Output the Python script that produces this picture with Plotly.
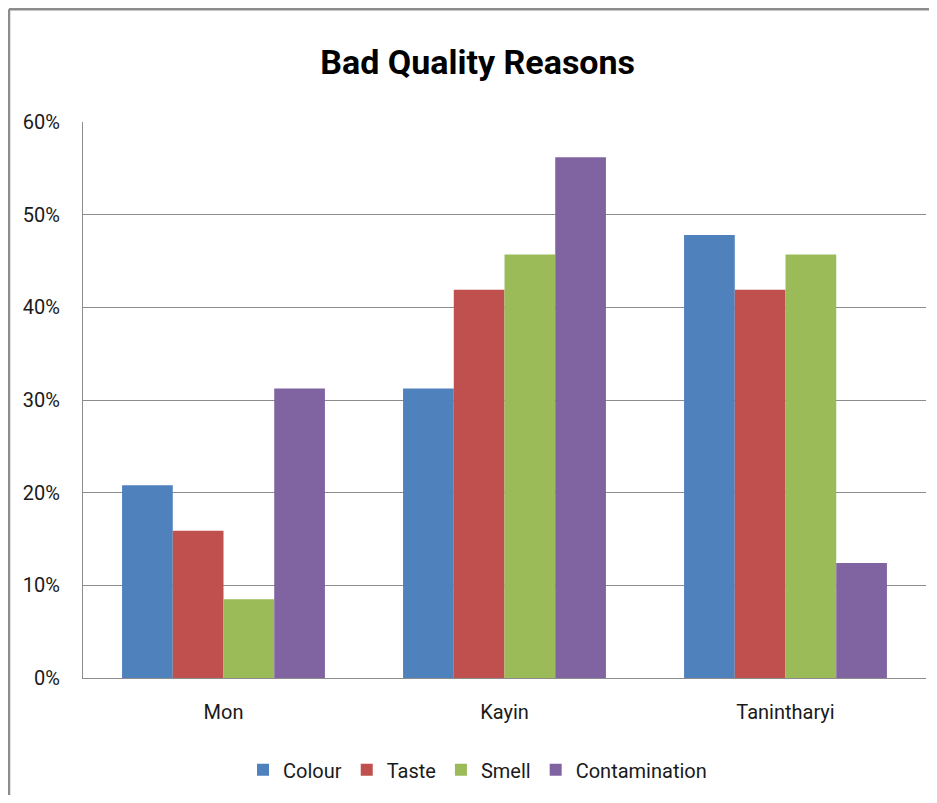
import plotly.graph_objects as go

regions = ["Mon", "Kayin", "Tanintharyi"]
colour = [20.8, 31.25, 47.8]
taste = [15.9, 41.9, 41.9]
smell = [8.5, 45.7, 45.7]
contamination = [31.25, 56.2, 12.4]

series = [
    ("Colour", colour, "#4f81bd"),
    ("Taste", taste, "#c0504d"),
    ("Smell", smell, "#9bbb59"),
    ("Contamination", contamination, "#8064a2"),
]

font_family = "Roboto, Open Sans, sans-serif"

fig = go.Figure()
for name, vals, col in series:
    fig.add_trace(
        go.Bar(
            x=regions,
            y=[v / 100 for v in vals],
            name=name,
            marker={"color": col, "line": {"width": 0}},
        )
    )

# the page has an 8px body margin, so the figure is sized to fit inside it
fig.update_layout(
    width=921,
    height=787,
    margin={"l": 75, "r": 3, "t": 114, "b": 117},
    paper_bgcolor="white",
    plot_bgcolor="white",
    barmode="group",
    bargap=0.278,
    bargroupgap=0,
    font={"family": font_family, "size": 20, "color": "#1a1a1a"},
    title={
        "text": "<b>Bad Quality Reasons</b>",
        "x": 0.51,
        "xanchor": "center",
        "y": 0.931,
        "yanchor": "middle",
        "font": {"size": 34, "color": "black"},
    },
    legend={
        "orientation": "h",
        "x": 0.468,
        "xanchor": "center",
        "y": -0.165,
        "yanchor": "middle",
        "font": {"size": 20},
        "itemwidth": 30,
    },
    showlegend=True,
)

fig.update_yaxes(
    range=[0, 0.6],
    dtick=0.1,
    tickformat=".0%",
    showgrid=True,
    gridcolor="#8c8c8c",
    gridwidth=1,
    showline=True,
    linecolor="#8c8c8c",
    ticks="",
    ticklabelstandoff=18,
    zeroline=False,
)
fig.update_xaxes(
    showline=True,
    linecolor="#8c8c8c",
    ticks="",
    ticklabelstandoff=16,
)

# chart frame: only the top and left edges are visible in the original
frame = {"color": "#8c8c8c", "width": 2.5}
fig.add_shape(type="line", xref="paper", yref="paper",
              x0=-0.0878, x1=1.1, y0=1.203, y1=1.203, line=frame)
fig.add_shape(type="line", xref="paper", yref="paper",
              x0=-0.0878, x1=-0.0878, y0=1.203, y1=-0.4, line=frame)

fig.write_html("out.html")
